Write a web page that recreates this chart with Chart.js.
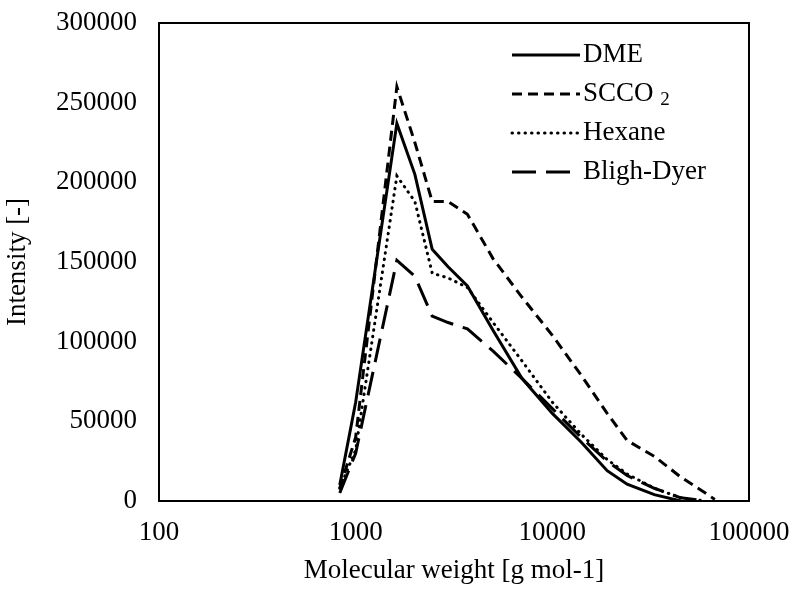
<!DOCTYPE html>
<html>
<head>
<meta charset="utf-8">
<script src="https://cdn.jsdelivr.net/npm/chart.js@4/dist/chart.umd.min.js"></script>
<style>
  html, body { margin: 0; padding: 0; background: #fff; }
  #wrap { width: 790px; height: 589px; }
</style>
</head>
<body>
<div id="wrap"><canvas id="mwChart" width="790" height="589"></canvas></div>
<script>
// molecular weight grid (g/mol) and intensities
const mw     = [830, 1000, 1620, 2000, 2450, 2950, 3700, 5000, 7000, 10000, 14000, 19000, 24000, 33000, 45000, 60000, 67000];
const dme    = [10000, 62000, 237000, 205000, 158000, 147000, 135000, 107000, 77000, 55000, 37000, 19000, 10500, 4000, 0, null, null];
const scco2  = [8000, 40000, 260000, 225000, 188000, 188000, 180000, 152000, 128000, 104000, 79000, 55000, 38000, 28000, 15000, 5000, 1000];
const hexane = [8000, 32000, 204000, 188000, 143000, 140000, 134000, 112000, 88000, 62000, 42000, 26000, 17000, 8000, 2000, 0, null];
const bligh  = [5000, 30000, 151000, 141000, 116000, 112000, 108000, 94000, 77000, 58000, 40000, 25000, 16000, 8000, 2000, 0, null];

const xTicks = [100, 1000, 10000, 100000];
const yTicks = [0, 50000, 100000, 150000, 200000, 250000, 300000];

const FONT = '"Liberation Serif", "Times New Roman", serif';

function pts(vals) {
  return mw.map((m, i) => ({ x: m, y: vals[i] }));
}

// legend drawn inside the plot, Excel style
const insideLegend = {
  id: 'insideLegend',
  afterDraw(chart) {
    const ctx = chart.ctx;
    const x0 = 512, y0 = 55, step = 39, len = 68;
    chart.data.datasets.forEach((ds, i) => {
      const y = y0 + i * step;
      ctx.save();
      ctx.strokeStyle = ds.borderColor;
      ctx.lineWidth = ds.borderWidth;
      ctx.lineCap = ds.borderCapStyle || 'butt';
      ctx.setLineDash(ds.borderDash || []);
      ctx.beginPath(); ctx.moveTo(x0, y); ctx.lineTo(x0 + len, y); ctx.stroke();
      ctx.setLineDash([]);
      ctx.fillStyle = '#000';
      ctx.textBaseline = 'middle';
      ctx.font = '27px ' + FONT;
      let tx = x0 + len + 3;
      const parts = ds.label.split('₂');
      ctx.fillText(parts[0], tx, y);
      if (parts.length > 1) {
        tx += ctx.measureText(parts[0] + ' ').width;
        ctx.font = '19px ' + FONT;
        ctx.fillText('2', tx, y + 6);
      }
      ctx.restore();
    });
  }
};

// black frame round the plot area
const frame = {
  id: 'frame',
  afterDatasetsDraw(chart) {
    const a = chart.chartArea, ctx = chart.ctx;
    ctx.save();
    ctx.strokeStyle = '#000';
    ctx.lineWidth = 2;
    ctx.strokeRect(a.left, a.top, a.right - a.left, a.bottom - a.top);
    ctx.restore();
  }
};

function noPad(s) {
  s.paddingTop = 0; s.paddingBottom = 0; s.paddingLeft = 0; s.paddingRight = 0;
}

new Chart(document.getElementById('mwChart'), {
  type: 'line',
  data: {
    datasets: [
      { label: 'DME', data: pts(dme), borderColor: '#000', borderWidth: 3, borderDash: [] },
      { label: 'SCCO₂', data: pts(scco2), borderColor: '#000', borderWidth: 3, borderDash: [10, 6] },
      { label: 'Hexane', data: pts(hexane), borderColor: '#000', borderWidth: 3, borderDash: [0.5, 6], borderCapStyle: 'round' },
      { label: 'Bligh-Dyer', data: pts(bligh), borderColor: '#000', borderWidth: 3, borderDash: [24, 10] }
    ]
  },
  options: {
    responsive: false,
    animation: false,
    spanGaps: true,
    elements: { point: { radius: 0 }, line: { tension: 0 } },
    layout: { padding: { top: 23, right: 41, left: 0, bottom: 0 } },
    plugins: { legend: { display: false }, tooltip: { enabled: false } },
    scales: {
      x: {
        type: 'logarithmic',
        min: 100, max: 100000,
        grid: { display: false, drawTicks: false },
        border: { display: false },
        afterBuildTicks: s => { s.ticks = xTicks.map(v => ({ value: v })); },
        afterFit: s => { s.height = 88; noPad(s); },
        ticks: { color: '#000', padding: 16, maxRotation: 0, font: { family: FONT, size: 27 }, callback: v => String(v) },
        title: { display: true, text: 'Molecular weight [g mol-1]', color: '#000', font: { family: FONT, size: 27 }, padding: { top: 0, bottom: 2 } }
      },
      y: {
        min: 0, max: 300000,
        grid: { display: false, drawTicks: false },
        border: { display: false },
        afterBuildTicks: s => { s.ticks = yTicks.map(v => ({ value: v })); },
        afterFit: s => { s.width = 159; noPad(s); },
        ticks: { color: '#000', padding: 22, font: { family: FONT, size: 27 }, callback: v => String(v) },
        title: { display: true, text: 'Intensity [-]', color: '#000', font: { family: FONT, size: 27 }, padding: { top: 2, bottom: 0 } }
      }
    }
  },
  plugins: [frame, insideLegend]
});
</script>
</body>
</html>
